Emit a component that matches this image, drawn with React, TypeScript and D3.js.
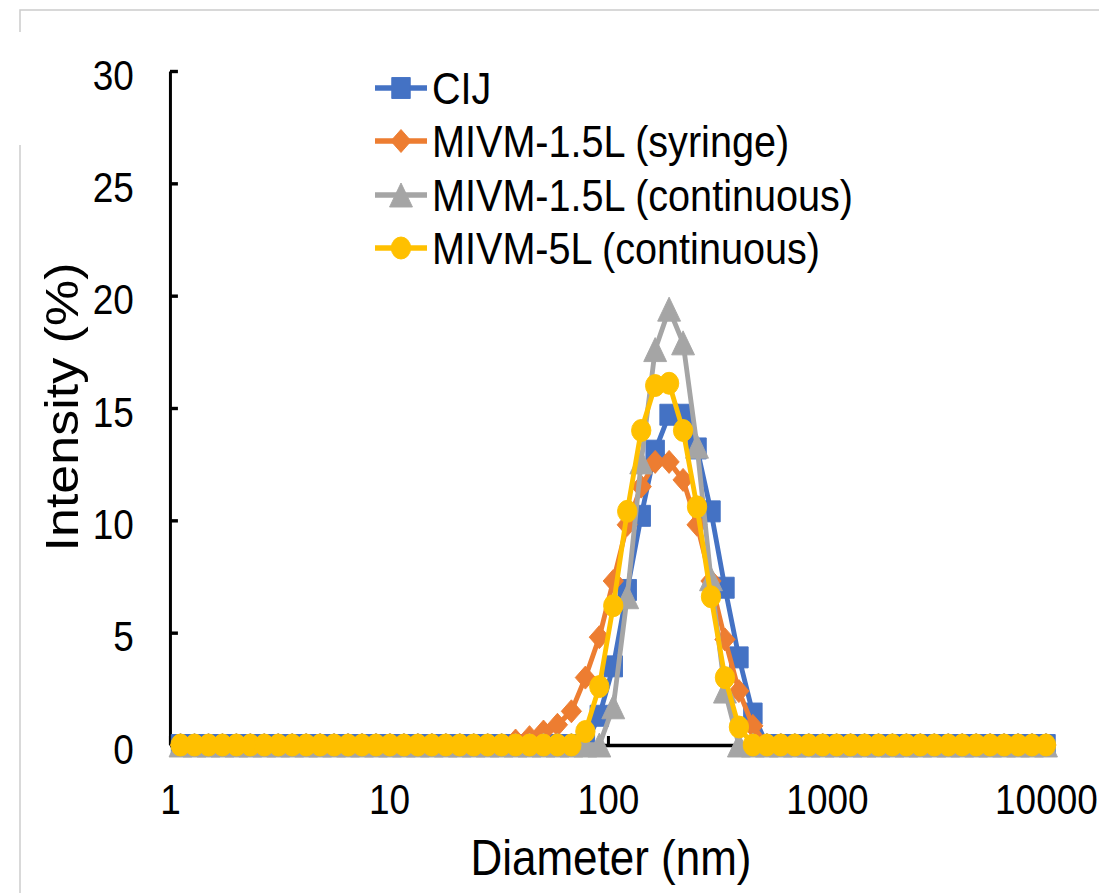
import React, { useEffect, useRef } from 'react';
import * as d3 from 'd3';

// size bins (nm)
const diameters = [
  1.117, 1.294, 1.499, 1.736, 2.010, 2.328, 2.696, 3.122, 3.615, 4.187,
  4.849, 5.615, 6.503, 7.531, 8.721, 10.10, 11.70, 13.54, 15.69, 18.17,
  21.04, 24.36, 28.21, 32.67, 37.84, 43.82, 50.75, 58.77, 68.06, 78.82,
  91.28, 105.7, 122.4, 141.8, 164.2, 190.1, 220.2, 255.0, 295.3, 342.0,
  396.1, 458.7, 531.2, 615.1, 712.4, 825.0, 955.4, 1106, 1281, 1484,
  1718, 1990, 2305, 2669, 3091, 3580, 4145, 4801, 5560, 6439,
  7456, 8635, 10000,
];

// intensity (%)
const cij = [
  0, 0, 0, 0, 0, 0, 0, 0, 0, 0,
  0, 0, 0, 0, 0, 0, 0, 0, 0, 0,
  0, 0, 0, 0, 0, 0, 0, 0, 0, 0,
  1.3, 3.5, 6.9, 10.2, 13.1, 14.7, 14.7, 13.2, 10.4, 7.0,
  3.9, 1.4, 0, 0, 0, 0, 0, 0, 0, 0,
  0, 0, 0, 0, 0, 0, 0, 0, 0, 0,
  0, 0, 0,
];
const syringe15 = [
  0, 0, 0, 0, 0, 0, 0, 0, 0, 0,
  0, 0, 0, 0, 0, 0, 0, 0, 0, 0,
  0, 0, 0, 0, 0.2, 0.35, 0.6, 0.9, 1.5, 3.0,
  4.8, 7.3, 9.8, 11.5, 12.6, 12.6, 11.8, 9.8, 7.3, 4.7,
  2.4, 0.85, 0, 0, 0, 0, 0, 0, 0, 0,
  0, 0, 0, 0, 0, 0, 0, 0, 0, 0,
  0, 0, 0,
];
const continuous15 = [
  0, 0, 0, 0, 0, 0, 0, 0, 0, 0,
  0, 0, 0, 0, 0, 0, 0, 0, 0, 0,
  0, 0, 0, 0, 0, 0, 0, 0, 0, 0,
  0, 1.7, 6.6, 12.6, 17.6, 19.4, 17.9, 13.3, 7.4, 2.4,
  0, 0, 0, 0, 0, 0, 0, 0, 0, 0,
  0, 0, 0, 0, 0, 0, 0, 0, 0, 0,
  0, 0, 0,
];
const continuous5 = [
  0, 0, 0, 0, 0, 0, 0, 0, 0, 0,
  0, 0, 0, 0, 0, 0, 0, 0, 0, 0,
  0, 0, 0, 0, 0, 0, 0, 0, 0, 0.6,
  2.6, 6.2, 10.4, 14.0, 16.0, 16.1, 14.0, 10.6, 6.6, 3.0,
  0.8, 0, 0, 0, 0, 0, 0, 0, 0, 0,
  0, 0, 0, 0, 0, 0, 0, 0, 0, 0,
  0, 0, 0,
];

const seriesNames = ['CIJ', 'MIVM-1.5L (syringe)', 'MIVM-1.5L (continuous)', 'MIVM-5L (continuous)'];
const seriesValues = [cij, syringe15, continuous15, continuous5];
const seriesColors = ['#4472C4', '#ED7D31', '#A5A5A5', '#FFC000'];
const markerTypes = ['square', 'diamond', 'triangle', 'circle'];

const yTicks = [0, 5, 10, 15, 20, 25, 30];
const xTicks = [1, 10, 100, 1000, 10000];

const SX = 0.88; // picture is a bit squeezed horizontally
const FONT = '"Liberation Sans", Arial, Helvetica, sans-serif';

const markerPath = (type: string) => {
  switch (type) {
    case 'square': return 'M-10.5,-10.5H10.5V10.5H-10.5Z';
    case 'diamond': return 'M0,-11.5L11.5,0L0,11.5L-11.5,0Z';
    case 'triangle': return 'M0,-12L13,12L-13,12Z';
    default: return 'M-11,0A11,11 0 1,0 11,0A11,11 0 1,0 -11,0Z';
  }
};

const App = () => {
  const ref = useRef<SVGSVGElement>(null);

  useEffect(() => {
    const svg = d3.select(ref.current);
    svg.selectAll('*').remove();

    // faint frame of the original figure
    svg.append('path').attr('d', 'M20,32V10H1099').attr('fill', 'none').attr('stroke', '#cccccc').attr('stroke-width', 1.5);
    svg.append('line').attr('x1', 20).attr('x2', 20).attr('y1', 145).attr('y2', 893).attr('stroke', '#cccccc').attr('stroke-width', 1.5);

    const g = svg.append('g').attr('transform', `scale(${SX},1)`);

    const x = d3.scaleLog().domain([1, 10000]).range([170 / SX, 1046 / SX]);
    const y = d3.scaleLinear().domain([0, 30]).range([745, 71]);

    // axes
    const yAxis = g.append('g')
      .attr('transform', `translate(${170 / SX},0)`)
      .call(d3.axisLeft(y).tickValues(yTicks).tickSizeInner(-9).tickSizeOuter(0).tickPadding(41));
    const xAxis = g.append('g')
      .attr('transform', 'translate(0,745)')
      .call(d3.axisBottom(x).tickValues(xTicks).tickFormat(d3.format('d')).tickSizeInner(-9).tickSizeOuter(0).tickPadding(39));

    [yAxis, xAxis].forEach(ax => {
      ax.attr('font-family', FONT).attr('font-size', 42);
      ax.select('.domain').attr('stroke', '#000').attr('stroke-width', 3.4);
      ax.selectAll('.tick line').attr('stroke', '#000').attr('stroke-width', 3.4);
      ax.selectAll('text').attr('fill', '#000');
    });
    yAxis.selectAll('text').attr('dy', '0.43em');

    // series
    const line = d3.line<[number, number]>().x(d => x(d[0])).y(d => y(d[1]));
    seriesValues.forEach((vals, i) => {
      const pts: [number, number][] = diameters.map((d, j) => [d, vals[j]]);
      const sg = g.append('g');
      sg.append('path')
        .attr('d', line(pts))
        .attr('fill', 'none')
        .attr('stroke', seriesColors[i])
        .attr('stroke-width', 5.5)
        .attr('stroke-linejoin', 'round');
      sg.selectAll('path.mk')
        .data(pts)
        .enter()
        .append('path')
        .attr('class', 'mk')
        .attr('d', markerPath(markerTypes[i]))
        .attr('transform', d => `translate(${x(d[0])},${y(d[1])})`)
        .attr('fill', seriesColors[i])
        .attr('stroke', seriesColors[i])
        .attr('stroke-width', 1)
        .attr('stroke-linejoin', 'round');
    });

    // legend
    const legendRows = [88, 141, 195, 248];
    seriesNames.forEach((name, i) => {
      const lg = g.append('g').attr('transform', `translate(0,${legendRows[i]})`);
      lg.append('line')
        .attr('x1', 375 / SX).attr('x2', 427 / SX)
        .attr('stroke', seriesColors[i]).attr('stroke-width', 5.5);
      lg.append('path')
        .attr('d', markerPath(markerTypes[i]))
        .attr('transform', `translate(${401 / SX},0)`)
        .attr('fill', seriesColors[i]).attr('stroke', seriesColors[i]).attr('stroke-width', 1);
      lg.append('text')
        .attr('x', 432 / SX).attr('y', 16)
        .attr('font-family', FONT).attr('font-size', 45).attr('fill', '#000')
        .text(name);
    });

    // axis titles
    g.append('text')
      .attr('x', 611 / SX).attr('y', 875)
      .attr('text-anchor', 'middle')
      .attr('font-family', FONT).attr('font-size', 50).attr('fill', '#000')
      .text('Diameter (nm)');
    g.append('text')
      .attr('transform', `translate(${78 / SX},407) rotate(-90)`)
      .attr('text-anchor', 'middle')
      .attr('font-family', FONT).attr('font-size', 52).attr('fill', '#000')
      .text('Intensity (%)');
  }, []);

  return (
    <svg
      ref={ref}
      width={1099}
      height={893}
      style={{ position: 'absolute', left: 0, top: 0, background: '#fff' }}
    />
  );
};

export default App;
